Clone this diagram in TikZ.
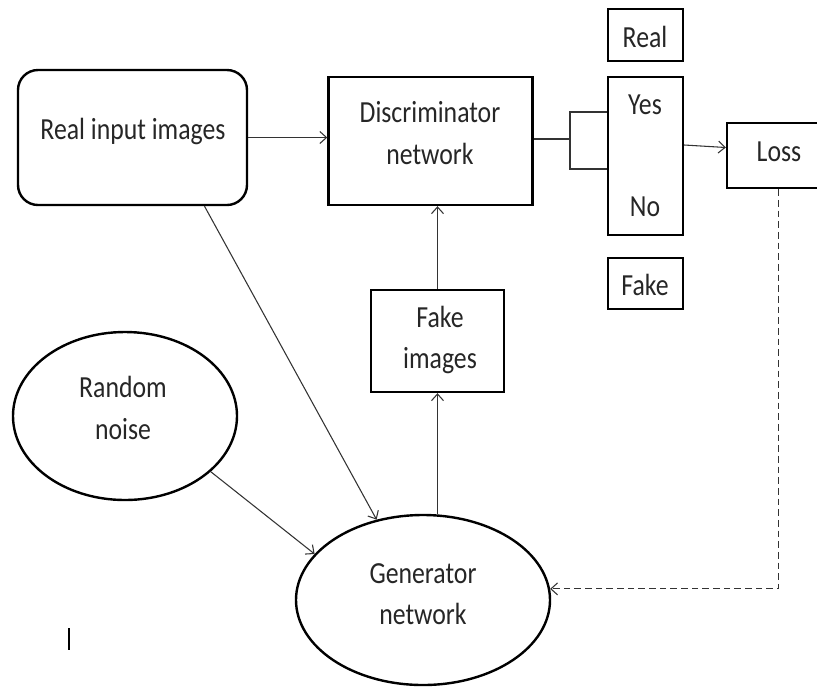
\documentclass[tikz,border=0pt]{standalone}
\usepackage{fontspec}
\setmainfont{Carlito}[FakeStretch=0.84]
\usetikzlibrary{arrows.meta,calc,shapes.geometric}
\begin{document}
\begin{tikzpicture}[x=0.75pt,y=-0.75pt,
  boxs/.style={draw=black,line width=1.8pt,inner sep=0pt},
  ells/.style={draw=black,line width=1.8pt,ellipse,inner sep=0pt},
  txt/.style={font=\fontsize{23}{31}\selectfont,align=center,inner sep=0pt,text=black!85},
  conn/.style={line width=0.8pt,draw=black!80},
  arr/.style={conn,-{Straight Barb[length=5pt,width=9pt]}}]
\useasboundingbox (0,0) rectangle (817,687);
\clip (0,0) rectangle (817,687);
% boxes
\node[boxs,rounded corners=15pt,minimum width=171.75pt,minimum height=101.25pt] (rin) at (132.5,137.5) {};
\node[boxs,minimum width=153pt,minimum height=96pt] (disc) at (430.5,141) {};
\node[boxs,minimum width=56.25pt,minimum height=118.5pt] (yn) at (645.5,156) {};
\node[boxs,minimum width=56.25pt,minimum height=39pt] (real) at (645.5,35) {};
\node[boxs,minimum width=56.25pt,minimum height=38.25pt] (fake) at (645.5,283.5) {};
\node[boxs,minimum width=77.25pt,minimum height=48.75pt] (loss) at (778.5,155.5) {};
\node[boxs,minimum width=99.75pt,minimum height=76.5pt] (fimg) at (437.5,341) {};
\node[ells,minimum width=168pt,minimum height=126pt] (noise) at (125,416) {};
\node[ells,minimum width=190.5pt,minimum height=127.5pt] (gen) at (423,600) {};
% texts
\node[txt] (rin-t) at (133,131) {Real input images};
\node[txt] (disc-t) at (430,133) {Discriminator\\network};
\node[txt] (yes-t) at (645,105) {Yes};
\node[txt] (no-t) at (645,207) {No};
\node[txt] (real-t) at (645,37) {Real};
\node[txt] (fake-t) at (645,285) {Fake};
\node[txt] (loss-t) at (779,152) {Loss};
\node[txt] (fimg-t) at (440,340) {Fake\\images};
\node[txt] (noise-t) at (123,408) {Random\\noise};
\node[txt] (gen-t) at (423,594) {Generator\\network};
% connectors
\draw[arr] (rin.east) -- (rin.east -| disc.west);
\coordinate (bm) at (570,139);
\coordinate (bt) at (570,112);
\coordinate (bb) at (570,169);
\draw[conn] (disc.east |- bm) -- (bm);
\draw[conn] (bt -| yn.west) -- (bt) -- (bb) -- (bb -| yn.west);
\draw[arr] ($(yn.east)+(0,-11)$) -- ($(loss.west)+(0,-8)$);
\draw[arr] (fimg.north) -- (disc.south -| fimg.north);
\draw[arr] (gen.north -| fimg.south) -- (fimg.south);
\draw[arr] ($(rin.south)+(72,0)$) -- (gen.120);
\draw[arr] (noise.-33) -- (gen.157);
\draw[arr,dashed,dash pattern=on 5pt off 3pt] (loss.south) |- (gen.5);
\draw[line width=0.8pt] (69,628) -- (69,650);
\end{tikzpicture}
\end{document}
